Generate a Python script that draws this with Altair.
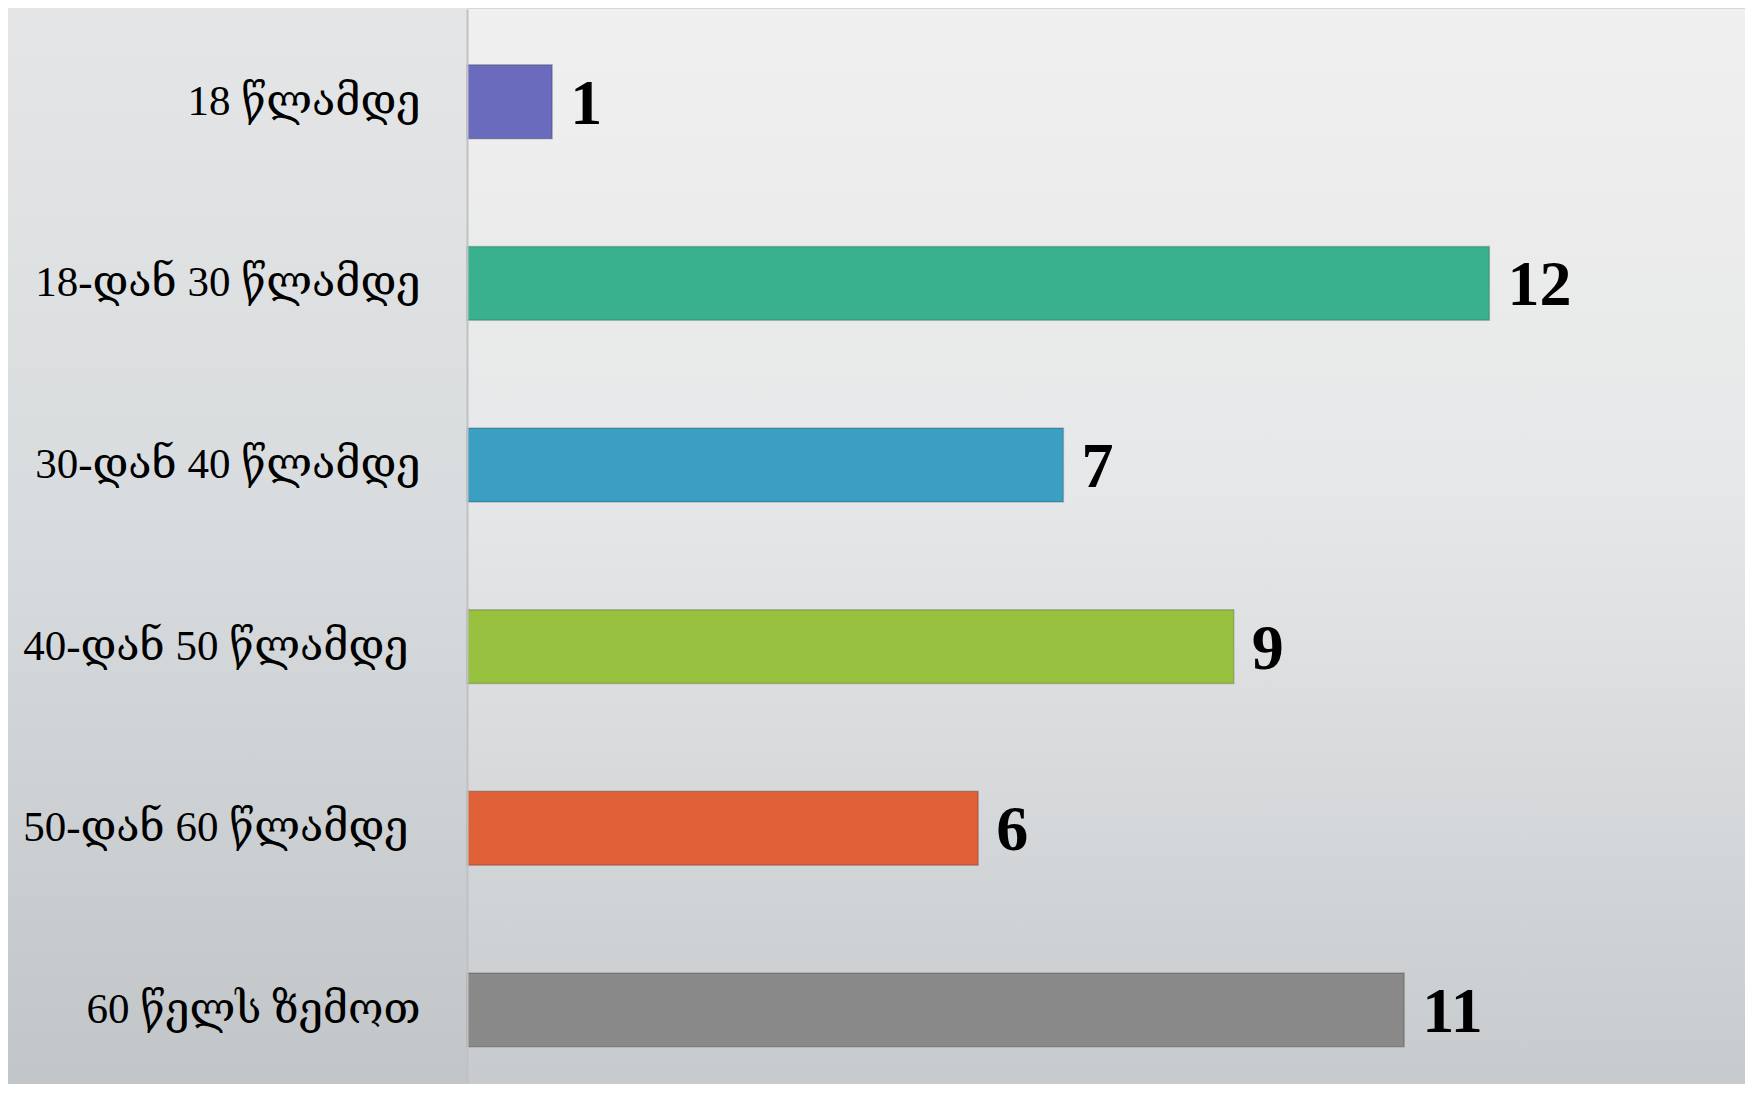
import altair as alt
import pandas as pd

categories = [
    "18 წლამდე",
    "18-დან 30 წლამდე",
    "30-დან 40 წლამდე",
    "40-დან 50 წლამდე",
    "50-დან 60 წლამდე",
    "60 წელს ზემოთ",
]
values = [1, 12, 7, 9, 6, 11]
colors = ["#6B6BBE", "#3AB18E", "#3B9EC3", "#97C13F", "#E06038", "#898989"]

df = pd.DataFrame({"cat": categories, "val": values})

W, H = 1278, 1075

plot_bg = alt.Chart(pd.DataFrame({"k": [0]})).mark_rect(
    color={
        "gradient": "linear", "x1": 0, "y1": 0, "x2": 0, "y2": 1,
        "stops": [
            {"offset": 0, "color": "#f0f0f0"},
            {"offset": 0.45, "color": "#e6e7e8"},
            {"offset": 1, "color": "#c7cbce"},
        ],
    }
).encode(x=alt.value(0), x2=alt.value(W), y=alt.value(0), y2=alt.value(H))

left_bg = alt.Chart(pd.DataFrame({"k": [0]})).mark_rect(
    color={
        "gradient": "linear", "x1": 0, "y1": 0, "x2": 0, "y2": 1,
        "stops": [
            {"offset": 0, "color": "#e4e6e7"},
            {"offset": 0.5, "color": "#d8dbdd"},
            {"offset": 1, "color": "#c1c5c8"},
        ],
    }
).encode(x=alt.value(-470), x2=alt.value(0), y=alt.value(-10), y2=alt.value(H + 10))

y_enc = alt.Y(
    "cat:N",
    sort=categories,
    scale=alt.Scale(paddingInner=0.593, paddingOuter=0.256, align=0.6),
    axis=alt.Axis(
        title=None,
        ticks=False,
        domain=True,
        domainColor="#bfc1c3",
        domainWidth=2,
        labelFont="Liberation Serif, DejaVu Serif",
        labelFontSize=43,
        labelColor="#000000",
        labelPadding={
            "condition": {
                "test": "indexof(datum.value, '40-') == 0 || indexof(datum.value, '50-') == 0",
                "value": 59,
            },
            "value": 47,
        },
        labelLimit=0,
        labelBaseline="middle",
        zindex=1,
    ),
)

x_enc = alt.X(
    "val:Q",
    scale=alt.Scale(domain=[0, 15], nice=False),
    axis=None,
)

bars = alt.Chart(df).mark_bar(
    stroke="#00000030", strokeWidth=1.5
).encode(
    y=y_enc,
    x=x_enc,
    color=alt.Color("cat:N", sort=categories,
                    scale=alt.Scale(domain=categories, range=colors), legend=None),
)

labels = alt.Chart(df).mark_text(
    align="left", baseline="middle", dx=18, dy=3,
    font="Liberation Serif", fontWeight="bold", fontSize=64, color="#000000",
).encode(y=alt.Y("cat:N", sort=categories), x="val:Q", text="val:Q")

chart = alt.layer(left_bg, plot_bg, bars, labels).properties(
    width=W, height=H,
    autosize=alt.AutoSizeParams(type="none"),
    padding={"left": 459, "top": 1, "right": 0, "bottom": 0},
    background="#d4d7d9",
).configure_view(stroke=None)

chart.save("out.html", embed_options={"renderer": "svg", "actions": False})
